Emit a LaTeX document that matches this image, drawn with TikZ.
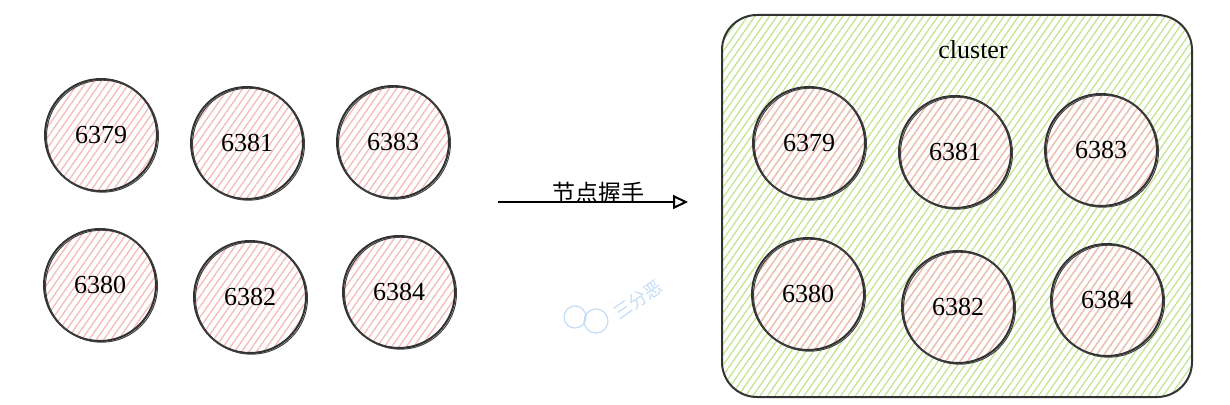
\documentclass[tikz,border=0pt]{standalone}
\usepackage{fontspec}
\setmainfont{Liberation Serif}
\newfontfamily\cjkfont{Noto Sans CJK SC}
\usetikzlibrary{patterns.meta,arrows.meta}

\definecolor{hatchred}{RGB}{246,186,186}
\definecolor{hatchgreen}{RGB}{196,228,146}
\definecolor{wmblue}{RGB}{196,220,245}

\tikzset{
  port/.style={circle, draw=black!80, line width=2pt, minimum size=112pt, inner sep=0pt,
    pattern={Lines[angle=55,distance=6pt,line width=1.3pt]}, pattern color=hatchred,
    font=\fontsize{26}{30}\selectfont,
    postaction={draw=black!75, line width=1pt, transform canvas={shift={(1.5pt,-1.2pt)}}}},
  clusterbox/.style={draw=black!80, line width=2pt, rounded corners=35pt,
    minimum width=470pt, minimum height=382pt,
    pattern={Lines[angle=55,distance=6pt,line width=1.3pt]}, pattern color=hatchgreen},
  label/.style={font=\fontsize{26}{30}\selectfont},
}

\begin{document}
\begin{tikzpicture}[x=1pt,y=-1pt]
    \useasboundingbox (0,0) rectangle (1230,404);

    % Before: single nodes
    \node[port] (p6379) at (101,135) {6379};
    \node[port] (p6381) at (247,143) {6381};
    \node[port] (p6383) at (393,142) {6383};
    \node[port] (p6380) at (100,285) {6380};
    \node[port] (p6382) at (250,297) {6382};
    \node[port] (p6384) at (399,292) {6384};

    % Handshake arrow
    \coordinate (hs start) at (498,202);
    \coordinate (hs end) at (688,202);
    \draw[line width=2pt, -{Triangle[open,length=15pt,width=14pt,line width=2pt]}] (hs start) --
      node[pos=0.53, yshift=9pt, font=\cjkfont\fontsize{23}{26}\selectfont] (hs label) {节点握手} (hs end);

    % Watermark
    \draw[wmblue, line width=1.2pt] (575,317) circle (11pt);
    \draw[wmblue, line width=1.2pt] (596,321) circle (12pt);
    \node[rotate=35, text=wmblue, inner sep=0pt, font=\cjkfont\fontsize{18}{20}\selectfont] (wm) at (638,300) {三分恶};

    % After: cluster
    \node[clusterbox] (cluster) at (957,206) {};
    \node[label] (cluster label) at (973,50) {cluster};
    \node[port] (c6379) at (809,143) {6379};
    \node[port] (c6381) at (955,152) {6381};
    \node[port] (c6383) at (1101,150) {6383};
    \node[port] (c6380) at (808,294) {6380};
    \node[port] (c6382) at (958,307) {6382};
    \node[port] (c6384) at (1107,300) {6384};
\end{tikzpicture}
\end{document}
